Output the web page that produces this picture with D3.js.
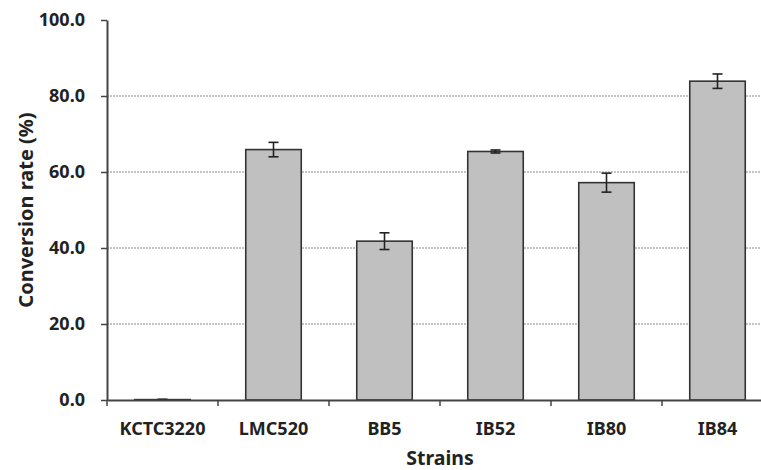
<!DOCTYPE html>
<html>
<head>
<meta charset="utf-8">
<script src="https://cdn.jsdelivr.net/npm/d3@7"></script>
<style>
  body { margin: 0; background: #fff; }
  svg { display: block; }
  svg text { font-family: "Noto Sans", "Open Sans", sans-serif; font-weight: bold; fill: #222; }
</style>
</head>
<body>
<div class="chart"></div>
<script>
// data
const strains = ["KCTC3220", "LMC520", "BB5", "IB52", "IB80", "IB84"]
const conversion = [0.1, 65.9, 41.8, 65.4, 57.2, 83.9]
const errors = [0.1, 1.9, 2.2, 0.4, 2.5, 1.9]
const yTicks = [0, 20, 40, 60, 80, 100]

const dims = { width: 761, height: 470 }
const margin = { left: 107, top: 20, bottom: 70 }
const plotRight = 773 // the reference crops the right end of the chart

const svg = d3.select('.chart')
  .append('svg')
  .attr('width', dims.width)
  .attr('height', dims.height)

const x = d3.scaleBand()
  .domain(strains)
  .range([margin.left, plotRight])
  .paddingInner(0.5)
  .paddingOuter(0.25)

const y = d3.scaleLinear()
  .domain([0, 100])
  .range([dims.height - margin.bottom, margin.top])

// dotted gridlines
svg.append('g')
  .selectAll('line')
  .data(yTicks.filter(t => t > 0 && t < 100))
  .enter().append('line')
  .attr('x1', margin.left)
  .attr('x2', plotRight)
  .attr('y1', d => y(d))
  .attr('y2', d => y(d))
  .attr('stroke', '#8a8a8a')
  .attr('stroke-width', 1)
  .attr('stroke-dasharray', '2,1')

// bars
const data = strains.map((s, i) => ({ name: s, value: conversion[i], err: errors[i] }))

svg.append('g')
  .selectAll('rect')
  .data(data)
  .enter().append('rect')
  .attr('x', d => x(d.name))
  .attr('width', x.bandwidth())
  .attr('y', d => y(d.value))
  .attr('height', d => y(0) - y(d.value))
  .attr('fill', '#c0c0c0')
  .attr('stroke', '#333')
  .attr('stroke-width', 1.6)

// error bars
const eb = svg.append('g')
  .selectAll('g')
  .data(data)
  .enter().append('g')
  .attr('stroke', '#222')
  .attr('stroke-width', 1.6)
const cx = d => x(d.name) + x.bandwidth() / 2
eb.append('line')
  .attr('x1', cx).attr('x2', cx)
  .attr('y1', d => y(d.value + d.err)).attr('y2', d => y(d.value - d.err))
eb.append('line')
  .attr('x1', d => cx(d) - 5).attr('x2', d => cx(d) + 5)
  .attr('y1', d => y(d.value + d.err)).attr('y2', d => y(d.value + d.err))
eb.append('line')
  .attr('x1', d => cx(d) - 5).attr('x2', d => cx(d) + 5)
  .attr('y1', d => y(d.value - d.err)).attr('y2', d => y(d.value - d.err))

// y axis
const yAxis = svg.append('g')
  .attr('transform', `translate(${margin.left},0)`)
  .call(d3.axisLeft(y).tickValues(yTicks).tickFormat(d3.format('.1f')).tickSize(6).tickSizeOuter(0))
yAxis.attr('font-family', null).attr('font-size', null)
yAxis.select('.domain').attr('stroke', '#444').attr('stroke-width', 2)
yAxis.selectAll('.tick line').attr('stroke', '#444').attr('stroke-width', 1.5)
yAxis.selectAll('.tick text')
  .attr('x', -22)
  .style('font-size', '18px')

// x axis
const xAxis = svg.append('g')
  .attr('transform', `translate(0,${y(0)})`)
  .call(d3.axisBottom(x).tickSize(0).tickSizeOuter(0))
xAxis.attr('font-family', null).attr('font-size', null)
xAxis.select('.domain').attr('stroke', '#444').attr('stroke-width', 2)
xAxis.selectAll('.tick text')
  .attr('dy', 0)
  .attr('y', 35)
  .style('font-size', '18px')

// category boundary ticks
svg.append('g')
  .selectAll('line')
  .data(strains)
  .enter().append('line')
  .attr('x1', d => x(d) - x.bandwidth() / 2)
  .attr('x2', d => x(d) - x.bandwidth() / 2)
  .attr('y1', y(0))
  .attr('y2', y(0) + 6)
  .attr('stroke', '#444')
  .attr('stroke-width', 1.5)

// axis titles
svg.append('text')
  .attr('x', 440)
  .attr('y', 465)
  .attr('text-anchor', 'middle')
  .style('font-size', '19.5px')
  .text('Strains')

svg.append('text')
  .attr('transform', `translate(33,${(y(0) + y(100)) / 2}) rotate(-90)`)
  .attr('text-anchor', 'middle')
  .style('font-size', '20px')
  .text('Conversion rate (%)')
</script>
</body>
</html>
